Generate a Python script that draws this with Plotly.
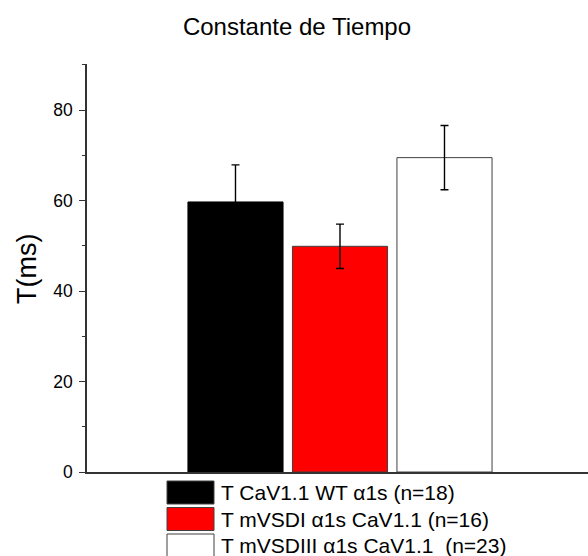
import plotly.graph_objects as go

# Group labels, mean time constants (ms) and standard errors
labels = [
    "T CaV1.1 WT α1s (n=18)",
    "T mVSDI α1s CaV1.1 (n=16)",
    "T mVSDIII α1s CaV1.1  (n=23)",
]
tau_ms = [59.7, 49.9, 69.5]
sem_ms = [8.2, 4.9, 7.1]
fill_colors = ["#000000", "#ff0000", "#ffffff"]
edge_colors = ["#000000", "#404040", "#404040"]
positions = [1, 2, 3]

W, H = 588, 556
L, R, T, B = 87, 0, 64, 84
plot_w = W - L - R
plot_h = H - T - B

FONT = "Liberation Sans, Arial, sans-serif"

fig = go.Figure()
for pos, val, err, fc, ec, name in zip(positions, tau_ms, sem_ms, fill_colors, edge_colors, labels):
    fig.add_trace(go.Bar(
        x=[pos], y=[val], name=name, width=0.91,
        marker=dict(color=fc, line=dict(color=ec, width=1)),
        error_y=dict(type="data", array=[err], visible=True,
                     color="#000000", thickness=1.4, width=4),
        showlegend=False,
    ))

# Legend drawn as filled swatches with text to the right
row_px = 26.5
box_x0, box_x1 = 167, 214
for i, (name, fc) in enumerate(zip(labels, fill_colors)):
    top = 481 + i * row_px
    bot = top + 23
    fig.add_shape(type="rect", xref="paper", yref="paper",
                  x0=(box_x0 - L) / plot_w, x1=(box_x1 - L) / plot_w,
                  y0=(H - B - top) / plot_h, y1=(H - B - bot) / plot_h,
                  fillcolor=fc, line=dict(color="#404040", width=1))
    fig.add_annotation(xref="paper", yref="paper",
                       x=(219 - L) / plot_w, y=(H - B - (top + bot) / 2) / plot_h,
                       xanchor="left", yanchor="middle", showarrow=False,
                       text=name, font=dict(family=FONT, size=21, color="#000000"))

# Y axis label
fig.add_annotation(xref="paper", yref="paper",
                   x=(27 - L) / plot_w, y=(H - B - 269) / plot_h,
                   xanchor="center", yanchor="middle", showarrow=False,
                   text="T(ms)", textangle=-90,
                   font=dict(family=FONT, size=27, color="#000000"))

fig.update_layout(
    width=W, height=H,
    margin=dict(l=L, r=R, t=T, b=B, pad=0),
    paper_bgcolor="white", plot_bgcolor="white",
    barmode="overlay",
    title=dict(text="Constante de Tiempo", x=297 / W, xanchor="center",
               y=1 - 27 / H, yanchor="middle",
               font=dict(family=FONT, size=24, color="#000000")),
    xaxis=dict(range=[-0.421, -0.421 + plot_w / 104.5], showline=True,
               linecolor="#333333", linewidth=1.5, showgrid=False,
               zeroline=False, showticklabels=False, ticks=""),
    yaxis=dict(range=[0, 90.2], showline=True, linecolor="#333333",
               linewidth=1.5, showgrid=False, zeroline=False,
               tickmode="linear", tick0=0, dtick=20, ticks="outside",
               ticklen=6, tickwidth=1.2, tickcolor="#333333",
               ticklabelstandoff=3,
               tickfont=dict(family=FONT, size=17.5, color="#000000"),
               minor=dict(tickmode="linear", tick0=0, dtick=10,
                          ticks="outside", ticklen=3, tickwidth=1.2,
                          tickcolor="#333333")),
)

fig.write_html("out.html")
